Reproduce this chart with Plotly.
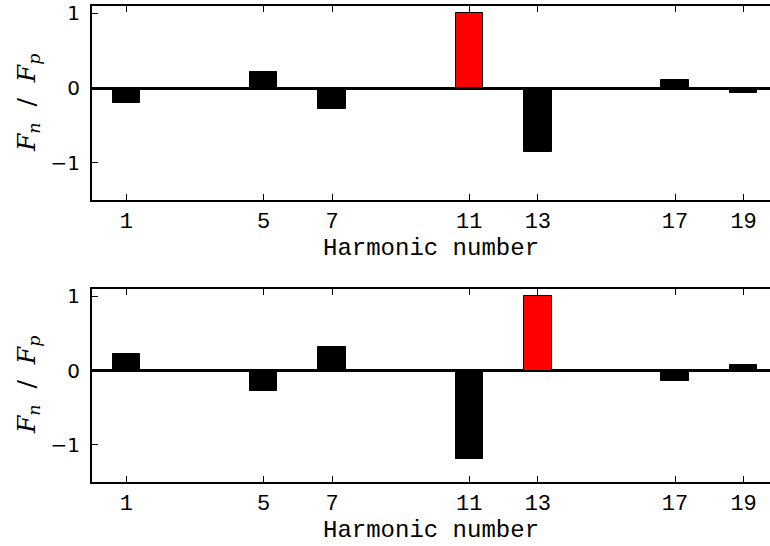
import plotly.graph_objects as go
from plotly.subplots import make_subplots

harmonics = [1, 5, 7, 11, 13, 17, 19]
top_values = [-0.20, 0.22, -0.28, 1.00, -0.86, 0.11, -0.07]
bottom_values = [0.23, -0.27, 0.32, -1.19, 1.00, -0.14, 0.07]
top_colors = ["black", "black", "black", "red", "black", "black", "black"]
bottom_colors = ["black", "black", "black", "black", "red", "black", "black"]
x_tick_labels = [str(h) for h in harmonics]
y_tick_vals = [-1, 0, 1]
y_tick_text = ["\u22121", "0", "1"]

MONO = "Courier New, Nimbus Mono PS, FreeMono, Liberation Mono, monospace"
W, H = 770, 546
fig = make_subplots(rows=2, cols=1)

fig.add_trace(go.Bar(x=harmonics, y=top_values, width=0.8,
                     marker=dict(color=top_colors, line=dict(color="black", width=1))),
              row=1, col=1)
fig.add_trace(go.Bar(x=harmonics, y=bottom_values, width=0.8,
                     marker=dict(color=bottom_colors, line=dict(color="black", width=1))),
              row=2, col=1)

x_dom = [92 / W, 1.0]
y_doms = [[1 - 200 / H, 1 - 6 / H], [1 - 482 / H, 1 - 289 / H]]

xaxis_style = dict(range=[0, 19.77], tickvals=harmonics, ticktext=x_tick_labels,
                   showline=True, linecolor="black", linewidth=2, mirror="ticks",
                   ticks="inside", ticklen=6, tickwidth=1, tickcolor="black",
                   showgrid=False, zeroline=False, ticklabelstandoff=0,
                   tickfont=dict(family=MONO, size=22, color="black"),
                   domain=x_dom, automargin=False)
yaxis_style = dict(range=[-1.5, 1.1], tickvals=y_tick_vals, ticktext=y_tick_text,
                   showline=True, linecolor="black", linewidth=2, mirror=False,
                   ticks="inside", ticklen=6, tickwidth=1, tickcolor="black",
                   showgrid=False, zeroline=True, zerolinecolor="black", zerolinewidth=2.5,
                   ticklabelstandoff=6,
                   tickfont=dict(family="DejaVu Sans", size=20, color="black"),
                   automargin=False)

fig.update_layout(
    xaxis=xaxis_style,
    xaxis2=xaxis_style,
    yaxis=dict(yaxis_style, domain=y_doms[0]),
    yaxis2=dict(yaxis_style, domain=y_doms[1]),
    width=W, height=H,
    margin=dict(l=0, r=0, t=0, b=0),
    paper_bgcolor="white", plot_bgcolor="white",
    showlegend=False,
    bargap=0,
)

ylabel = "<i>F<sub>n</sub></i>  /  <i>F<sub>p</sub></i>"
for ycenter in [103, 385]:
    fig.add_annotation(text=ylabel, xref="paper", yref="paper",
                       x=28 / W, y=1 - ycenter / H, showarrow=False, textangle=-90,
                       font=dict(family="DejaVu Serif", size=25, color="black"),
                       xanchor="center", yanchor="middle")
for ycenter in [249, 530]:
    fig.add_annotation(text="Harmonic number", xref="paper", yref="paper",
                       x=431 / W, y=1 - ycenter / H, showarrow=False,
                       font=dict(family=MONO, size=24, color="black"),
                       xanchor="center", yanchor="middle")

fig.write_html("out.html")
